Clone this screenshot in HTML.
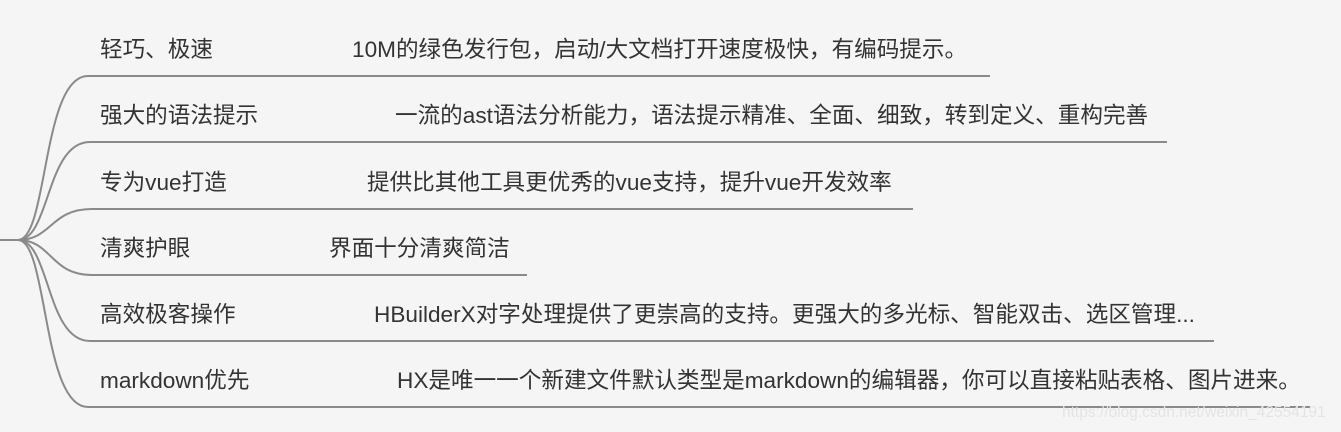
<!DOCTYPE html>
<html><head><meta charset="utf-8"><style>
body{margin:0;width:1341px;height:432px;background:#f5f5f5;overflow:hidden;position:relative;font-family:"Liberation Sans","Noto Sans CJK SC",sans-serif;color:#333}
.t{position:absolute;font-size:22.6px;line-height:26px;white-space:nowrap}
svg{position:absolute;left:0;top:0}
.wm{position:absolute;left:1062px;top:404px;font-size:15.5px;color:#e4e4e4;font-family:"Liberation Sans",sans-serif}
</style></head><body>
<svg width="1341" height="432" fill="none" stroke="#8a8a8a" stroke-width="2">
<path d="M0,240 L18,240"/>
<path d="M18,240 C48,240 42,76 88,76 L990,76"/>
<path d="M18,240 C50,240 46,142 90,142 L1167,142"/>
<path d="M18,240 C52,240 50,209 92,209 L913,209"/>
<path d="M18,240 C52,240 50,275 92,275 L527,275"/>
<path d="M18,240 C50,240 46,341 90,341 L1214,341"/>
<path d="M18,240 C48,240 42,407 88,407 L1310,407"/>
</svg>
<div class="t" style="left:100px;top:37px">轻巧、极速</div>
<div class="t" style="left:352px;top:37px">10M的绿色发行包，启动/大文档打开速度极快，有编码提示。</div>
<div class="t" style="left:100px;top:103px">强大的语法提示</div>
<div class="t" style="left:395px;top:103px">一流的ast语法分析能力，语法提示精准、全面、细致，转到定义、重构完善</div>
<div class="t" style="left:100px;top:170px">专为vue打造</div>
<div class="t" style="left:367px;top:170px">提供比其他工具更优秀的vue支持，提升vue开发效率</div>
<div class="t" style="left:100px;top:236px">清爽护眼</div>
<div class="t" style="left:329px;top:236px">界面十分清爽简洁</div>
<div class="t" style="left:100px;top:302px">高效极客操作</div>
<div class="t" style="left:374px;top:302px">HBuilderX对字处理提供了更崇高的支持。更强大的多光标、智能双击、选区管理...</div>
<div class="t" style="left:100px;top:368px">markdown优先</div>
<div class="t" style="left:397px;top:368px">HX是唯一一个新建文件默认类型是markdown的编辑器，你可以直接粘贴表格、图片进来。</div>
<div class="wm">https://blog.csdn.net/weixin_42554191</div>
</body></html>
